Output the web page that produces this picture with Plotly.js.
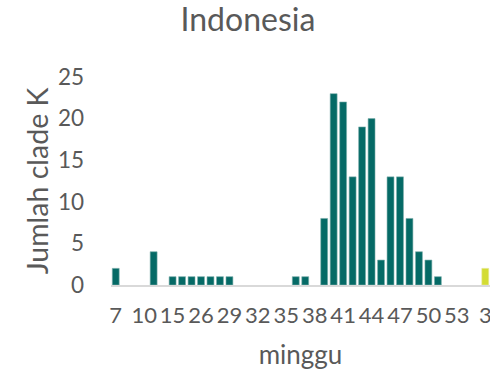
<!DOCTYPE html>
<html>
<head>
<meta charset="utf-8">
<script src="https://cdn.plot.ly/plotly-3.0.1.min.js"></script>
<style>
  html, body { margin: 0; padding: 0; background: #ffffff; }
  #chart { width: 490px; height: 375px; }
</style>
</head>
<body>
<div id="chart"></div>
<script>
// Week categories (in axis order) and counts of clade K
const weeksYear1 = ["7","8","9","10","11","12","15","24","25","26","27","28","29","30","31","32","33","34","35","36","37","38","39","40","41","42","43","44","45","46","47","48","49","50","51","52","53"];
const valuesYear1 = [2,0,0,0,4,0,1,1,1,1,1,1,1,0,0,0,0,0,0,1,1,0,8,23,22,13,19,20,3,13,13,8,4,3,1,0,0];
const weeksYear2 = ["1","2","3"];
const valuesYear2 = [0,0,2];
const allWeeks = weeksYear1.concat(weeksYear2);
const shownTicks = allWeeks.filter((w, i) => i % 3 === 0);

const chartTitle = "Indonesia";
const xTitle = "minggu";
const yTitle = "Jumlah clade K";

const textColor = "#595959";
const fontFam = "Lato, 'Open Sans', sans-serif";

const edgeWidths = vals => vals.map(v => (v > 0 ? 0.6 : 0));

const traces = [
  {
    type: "bar",
    x: weeksYear1,
    y: valuesYear1,
    marker: { color: "#056a66", line: { width: edgeWidths(valuesYear1), color: "#7fb0ad" } },
    hoverinfo: "x+y",
    showlegend: false
  },
  {
    type: "bar",
    x: weeksYear2,
    y: valuesYear2,
    marker: { color: "#d3dc33", line: { width: edgeWidths(valuesYear2), color: "#e6ea9a" } },
    hoverinfo: "x+y",
    showlegend: false
  }
];

const layout = {
  width: 490,
  height: 375,
  margin: { l: 111, r: 0, t: 77, b: 90, pad: 0 },
  paper_bgcolor: "#ffffff",
  plot_bgcolor: "#ffffff",
  barmode: "overlay",
  bargap: 0.27,
  font: { family: fontFam, color: textColor },
  title: {
    text: chartTitle,
    font: { family: fontFam, size: 32, color: textColor },
    xref: "container", yref: "container",
    x: 0.506, y: 0.947, xanchor: "center", yanchor: "middle"
  },
  xaxis: {
    type: "category",
    categoryorder: "array",
    categoryarray: allWeeks,
    tickmode: "array",
    tickvals: shownTicks,
    ticktext: shownTicks,
    tickangle: 0,
    range: [-0.5, allWeeks.length - 0.5],
    showline: true,
    linecolor: "#d9d9d9",
    linewidth: 2,
    showgrid: false,
    zeroline: false,
    ticks: "",
    ticklabelstandoff: 10,
    tickfont: { family: fontFam, size: 22, color: textColor },
    title: { text: xTitle, font: { family: fontFam, size: 26, color: textColor }, standoff: 18 }
  },
  yaxis: {
    range: [0, 25],
    tickmode: "array",
    tickvals: [0, 5, 10, 15, 20, 25],
    showline: false,
    showgrid: false,
    zeroline: false,
    ticks: "",
    ticklabelstandoff: 26,
    tickfont: { family: fontFam, size: 22.5, color: textColor },
    title: { text: yTitle, font: { family: fontFam, size: 28.5, color: textColor }, standoff: 0 }
  }
};

Plotly.newPlot("chart", traces, layout, { displayModeBar: false, staticPlot: true });
</script>
</body>
</html>
